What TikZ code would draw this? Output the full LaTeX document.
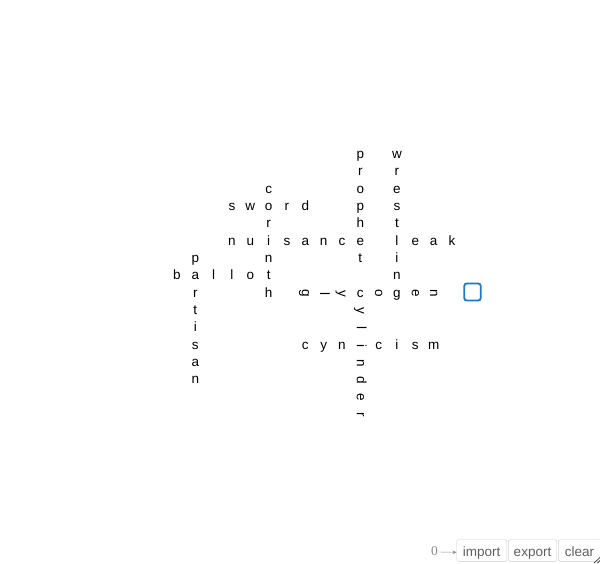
\documentclass[tikz,border=0pt]{standalone}
\usepackage{fontspec}
\setmainfont{Liberation Sans}
\newfontfamily\zerofont{Liberation Serif}
\usetikzlibrary{arrows.meta}

\definecolor{cursorblue}{RGB}{30,122,190}
\definecolor{btnborder}{RGB}{204,204,204}
\definecolor{btntext}{RGB}{95,95,95}
\definecolor{zerogray}{RGB}{140,140,140}

\tikzset{
  cell/.style={font=\fontsize{13.5}{16}\selectfont, inner sep=0pt, text height=7pt, text depth=0pt},
  turned/.style={cell, rotate=-90},
  cursorbox/.style={draw=cursorblue, line width=1.8pt, rounded corners=2.5pt, minimum width=16.5pt, minimum height=17pt, inner sep=0pt},
  button/.style={draw=btnborder, rounded corners=1.5pt, text=btntext, font=\fontsize{13.5}{16}\selectfont, inner sep=0pt, text height=11pt, text depth=0pt, minimum height=21.6pt}
}

\begin{document}
\begin{tikzpicture}[x=1pt,y=-1pt]
    \useasboundingbox (0,0) rectangle (600,563);

    \begin{scope}[shift={(177pt,-155pt)},x=18.33pt,y=-17.33pt]
        % across
        \foreach \l [count=\i from 0] in {b,a,l,l,o,t}
            \node[cell] (ballot-\i) at (\i,7) {\l};
        \foreach \l [count=\i from 3] in {s,w,o,r,d}
            \node[cell] (sword-\i) at (\i,3) {\l};
        \foreach \l [count=\i from 3] in {n,u,i,s,a,n,c,e}
            \node[cell] (nuisance-\i) at (\i,5) {\l};
        \foreach \l [count=\i from 12] in {l,e,a,k}
            \node[cell] (leak-\i) at (\i,5) {\l};
        \foreach \i/\l/\s in {7/g/turned,8/l/turned,9/y/turned,10/c/cell,11/o/turned,13/e/turned,14/n/turned}
            \node[\s] (glycogen-\i) at (\i,8) {\l};
        \foreach \i/\l in {7/c,8/y,9/n,11/c,12/i,13/s,14/m}
            \node[cell] (cynicism-\i) at (\i,11) {\l};

        % down
        \foreach \j/\l in {6/p,8/r,9/t,10/i,11/s,12/a,13/n}
            \node[cell] (partisan-\j) at (1,\j) {\l};
        \foreach \j/\l in {2/c,4/r,6/n,8/h}
            \node[cell] (corinth-\j) at (5,\j) {\l};
        \foreach \j/\l in {0/p,1/r,2/o,3/p,4/h,6/t}
            \node[cell] (prophet-\j) at (10,\j) {\l};
        \foreach \j/\l in {0/w,1/r,2/e,3/s,4/t,6/i,7/n,8/g}
            \node[cell] (wrestling-\j) at (12,\j) {\l};
        \foreach \j/\l in {9/y,10/l,11/i,12/n,13/d,14/e,15/r}
            \node[turned] (cylinder-\j) at (10,\j) {\l};
    \end{scope}

    \node[cursorbox] (cursor) at (472.5,292) {};

    % toolbar
    \node[text=zerogray, font=\zerofont\fontsize{13.5}{16}\selectfont, inner sep=0pt, text height=9pt, text depth=0pt] (zero) at (434.4,551) {0};
    \node[button, minimum width=50pt] (import) at (481.7,550.5) {import};
    \node[button, minimum width=48.4pt] (export) at (532.5,550.5) {export};
    \node[button, minimum width=42.6pt] (clear) at (579.6,550.5) {clear};
    \draw[zerogray, -{Stealth[length=4pt,width=3.5pt]}] (zero.east) ++(1,1) -- (import.west |- 0,552.3);

    \draw[gray!60!black, line width=0.8pt] (594,563) -- (600,557.5);
    \draw[gray!60!black, line width=0.8pt] (597.5,563) -- (600,560.5);
\end{tikzpicture}
\end{document}
